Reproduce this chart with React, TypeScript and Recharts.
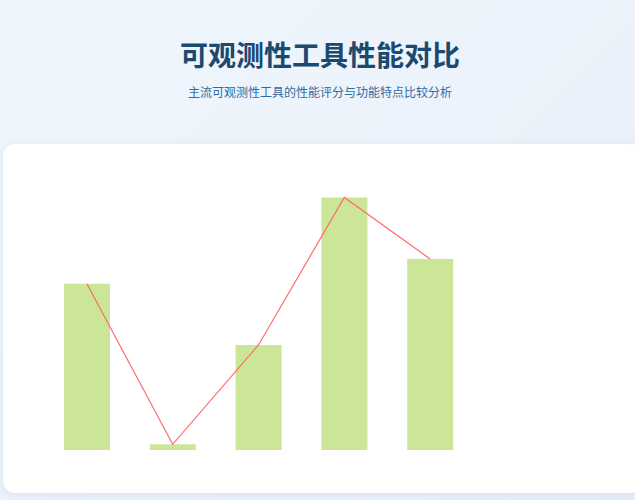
import React from "react";
import { ComposedChart, Bar, Line, XAxis, YAxis } from "recharts";

// Tools compared (axis is hidden in the reference)
const tools = ["Prometheus", "Zabbix", "Datadog", "Grafana", "Jaeger"];
// Performance score (bars) and trend line
const scores = [55.4, 1.9, 35, 84.2, 63.7];
const trend = [55.4, 1.9, 35, 84.2, 63.7];

const data = tools.map((name, i) => ({ name, score: scores[i], trend: trend[i] }));

const App: React.FC = () => {
  return (
    <div
      style={{
        position: "absolute",
        left: 0,
        top: 0,
        width: 635,
        height: 500,
        overflow: "hidden",
        background: "linear-gradient(135deg, #f0f6fd 0%, #e8eff9 100%)",
        fontFamily: "'Noto Sans CJK SC', 'Noto Sans', sans-serif",
      }}
    >
      <div
        style={{
          position: "absolute",
          left: 0,
          width: 640,
          top: 34,
          textAlign: "center",
          fontSize: 28,
          fontWeight: 700,
          color: "#1b4a6e",
          lineHeight: "40px",
        }}
      >
        可观测性工具性能对比
      </div>
      <div
        style={{
          position: "absolute",
          left: 0,
          width: 640,
          top: 82,
          textAlign: "center",
          fontSize: 12,
          color: "#2f6da3",
          lineHeight: "20px",
        }}
      >
        主流可观测性工具的性能评分与功能特点比较分析
      </div>
      <div
        style={{
          position: "absolute",
          left: 3,
          top: 144,
          width: 640,
          height: 349,
          background: "#ffffff",
          borderRadius: 12,
          boxShadow: "0 2px 10px rgba(60, 90, 140, 0.10)",
        }}
      />
      <div style={{ position: "absolute", left: 44, top: 150 }}>
        <ComposedChart
          width={429}
          height={300}
          data={data}
          margin={{ top: 0, right: 0, bottom: 0, left: 0 }}
          barCategoryGap="23%"
        >
          <XAxis dataKey="name" hide />
          <YAxis hide domain={[0, 100]} />
          <Bar dataKey="score" fill="#9acd32" fillOpacity={0.5} barSize={46} isAnimationActive={false} />
          <Line
            type="linear"
            dataKey="trend"
            stroke="#ff6b6b"
            strokeWidth={1.2}
            dot={false}
            isAnimationActive={false}
          />
        </ComposedChart>
      </div>
    </div>
  );
};

export default App;
